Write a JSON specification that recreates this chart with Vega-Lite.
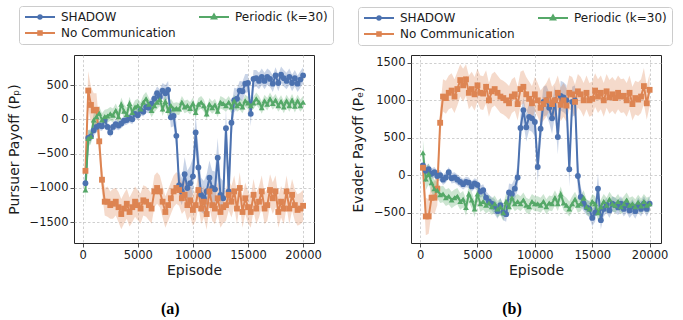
{
"$schema": "https://vega.github.io/schema/vega-lite/v6.json",
"padding": {"left": 6, "top": 5, "right": 5, "bottom": 0},
"spacing": 16,
"config": {
 "view": {"stroke": "#262626", "strokeWidth": 1},
 "font": "DejaVu Sans",
 "axis": {"labelFont": "DejaVu Sans", "labelFontSize": 11.5, "labelColor": "#1a1a1a", "titleFont": "DejaVu Sans", "titleFontSize": 14, "titleFontWeight": "normal", "titleColor": "#1a1a1a", "domain": false, "tickColor": "#262626", "tickSize": 4, "tickWidth": 0.8, "gridColor": "#c4c4c4", "gridDash": [2.5, 2], "gridWidth": 0.8, "labelPadding": 2, "format": "d"},
 "axisX": {"titlePadding": 3},
 "axisY": {"titlePadding": 8},
 "legend": {"title": null, "orient": "none", "columns": 2, "symbolSize": 100, "symbolOpacity": 1, "symbolStrokeWidth": 2, "labelFontSize": 12, "labelFont": "DejaVu Sans", "labelColor": "#1a1a1a", "labelOffset": 25, "strokeColor": "#cccccc", "fillColor": "#ffffff", "cornerRadius": 3, "padding": 5, "rowPadding": 4, "columnPadding": 19}
},
"resolve": {"scale": {"color": "independent", "x": "independent", "y": "independent"}, "legend": {"color": "independent"}},
"datasets": {
"a": [
{"s":"S","x":250,"y":-930,"l":-1050,"h":-800},{"s":"S","x":500,"y":-270,"l":-380,"h":-150},{"s":"S","x":750,"y":-250,"l":-330,"h":-170},{"s":"S","x":1000,"y":-160,"l":-240,"h":-80},{"s":"S","x":1250,"y":-110,"l":-190,"h":-40},{"s":"S","x":1500,"y":-90,"l":-160,"h":-20},{"s":"S","x":1750,"y":-100,"l":-170,"h":-30},{"s":"S","x":2000,"y":-10,"l":-90,"h":60},{"s":"S","x":2250,"y":-110,"l":-180,"h":-40},{"s":"S","x":2500,"y":-190,"l":-260,"h":-110},{"s":"S","x":2750,"y":-110,"l":-180,"h":-40},{"s":"S","x":3000,"y":-70,"l":-140,"h":0},{"s":"S","x":3250,"y":-90,"l":-160,"h":-20},{"s":"S","x":3500,"y":-60,"l":-130,"h":10},{"s":"S","x":3750,"y":-20,"l":-90,"h":50},{"s":"S","x":4000,"y":-10,"l":-80,"h":60},{"s":"S","x":4250,"y":20,"l":-50,"h":90},{"s":"S","x":4500,"y":0,"l":-70,"h":70},{"s":"S","x":4750,"y":80,"l":10,"h":150},{"s":"S","x":5000,"y":60,"l":-10,"h":130},{"s":"S","x":5250,"y":130,"l":60,"h":200},{"s":"S","x":5500,"y":110,"l":40,"h":180},{"s":"S","x":5750,"y":180,"l":100,"h":260},{"s":"S","x":6000,"y":170,"l":90,"h":250},{"s":"S","x":6250,"y":230,"l":140,"h":320},{"s":"S","x":6500,"y":300,"l":200,"h":400},{"s":"S","x":6750,"y":380,"l":270,"h":480},{"s":"S","x":7000,"y":330,"l":220,"h":440},{"s":"S","x":7250,"y":420,"l":300,"h":530},{"s":"S","x":7500,"y":380,"l":260,"h":500},{"s":"S","x":7750,"y":430,"l":300,"h":560},{"s":"S","x":8000,"y":30,"l":-120,"h":180},{"s":"S","x":8250,"y":50,"l":-100,"h":200},{"s":"S","x":8500,"y":-240,"l":-450,"h":-40},{"s":"S","x":8750,"y":-960,"l":-1150,"h":-760},{"s":"S","x":9000,"y":-1050,"l":-1250,"h":-850},{"s":"S","x":9250,"y":-800,"l":-1050,"h":-550},{"s":"S","x":9500,"y":-1000,"l":-1250,"h":-750},{"s":"S","x":9750,"y":-930,"l":-1180,"h":-680},{"s":"S","x":10000,"y":-830,"l":-1100,"h":-560},{"s":"S","x":10250,"y":-190,"l":-450,"h":70},{"s":"S","x":10500,"y":-700,"l":-1000,"h":-400},{"s":"S","x":10750,"y":-1100,"l":-1350,"h":-850},{"s":"S","x":11000,"y":-1150,"l":-1380,"h":-900},{"s":"S","x":11250,"y":-1050,"l":-1300,"h":-800},{"s":"S","x":11500,"y":-850,"l":-1100,"h":-600},{"s":"S","x":11750,"y":-1000,"l":-1250,"h":-750},{"s":"S","x":12000,"y":-1020,"l":-1280,"h":-760},{"s":"S","x":12250,"y":-560,"l":-850,"h":-270},{"s":"S","x":12500,"y":-1100,"l":-1350,"h":-850},{"s":"S","x":12750,"y":-1150,"l":-1380,"h":-900},{"s":"S","x":13000,"y":-130,"l":-400,"h":150},{"s":"S","x":13250,"y":-1050,"l":-1300,"h":-800},{"s":"S","x":13500,"y":-50,"l":-300,"h":200},{"s":"S","x":13750,"y":280,"l":100,"h":460},{"s":"S","x":14000,"y":300,"l":150,"h":450},{"s":"S","x":14250,"y":420,"l":280,"h":560},{"s":"S","x":14500,"y":410,"l":270,"h":550},{"s":"S","x":14750,"y":520,"l":380,"h":660},{"s":"S","x":15000,"y":530,"l":400,"h":660},{"s":"S","x":15250,"y":80,"l":-100,"h":260},{"s":"S","x":15500,"y":590,"l":460,"h":720},{"s":"S","x":15750,"y":600,"l":480,"h":720},{"s":"S","x":16000,"y":560,"l":440,"h":680},{"s":"S","x":16250,"y":620,"l":500,"h":740},{"s":"S","x":16500,"y":560,"l":440,"h":680},{"s":"S","x":16750,"y":620,"l":500,"h":740},{"s":"S","x":17000,"y":590,"l":470,"h":710},{"s":"S","x":17250,"y":520,"l":400,"h":640},{"s":"S","x":17500,"y":640,"l":520,"h":760},{"s":"S","x":17750,"y":530,"l":410,"h":650},{"s":"S","x":18000,"y":650,"l":530,"h":770},{"s":"S","x":18250,"y":600,"l":480,"h":720},{"s":"S","x":18500,"y":560,"l":440,"h":680},{"s":"S","x":18750,"y":620,"l":500,"h":740},{"s":"S","x":19000,"y":530,"l":410,"h":650},{"s":"S","x":19250,"y":600,"l":480,"h":720},{"s":"S","x":19500,"y":520,"l":400,"h":640},{"s":"S","x":19750,"y":580,"l":460,"h":700},{"s":"S","x":20000,"y":640,"l":520,"h":760},
{"s":"N","x":250,"y":-750,"l":-950,"h":-550},{"s":"N","x":500,"y":420,"l":150,"h":700},{"s":"N","x":750,"y":210,"l":-50,"h":470},{"s":"N","x":1000,"y":130,"l":-120,"h":380},{"s":"N","x":1250,"y":140,"l":-100,"h":380},{"s":"N","x":1500,"y":-320,"l":-550,"h":-90},{"s":"N","x":1750,"y":-880,"l":-1080,"h":-680},{"s":"N","x":2000,"y":-1200,"l":-1400,"h":-1000},{"s":"N","x":2250,"y":-1200,"l":-1420,"h":-980},{"s":"N","x":2500,"y":-1250,"l":-1450,"h":-1050},{"s":"N","x":2750,"y":-1230,"l":-1450,"h":-1010},{"s":"N","x":3000,"y":-1200,"l":-1400,"h":-1000},{"s":"N","x":3250,"y":-1280,"l":-1500,"h":-1060},{"s":"N","x":3500,"y":-1380,"l":-1600,"h":-1160},{"s":"N","x":3750,"y":-1300,"l":-1520,"h":-1080},{"s":"N","x":4000,"y":-1230,"l":-1450,"h":-1010},{"s":"N","x":4250,"y":-1350,"l":-1560,"h":-1140},{"s":"N","x":4500,"y":-1280,"l":-1500,"h":-1060},{"s":"N","x":4750,"y":-1200,"l":-1420,"h":-980},{"s":"N","x":5000,"y":-1250,"l":-1470,"h":-1030},{"s":"N","x":5250,"y":-1300,"l":-1520,"h":-1080},{"s":"N","x":5500,"y":-1180,"l":-1400,"h":-960},{"s":"N","x":5750,"y":-1200,"l":-1420,"h":-980},{"s":"N","x":6000,"y":-1250,"l":-1470,"h":-1030},{"s":"N","x":6250,"y":-1300,"l":-1520,"h":-1080},{"s":"N","x":6500,"y":-1050,"l":-1280,"h":-820},{"s":"N","x":6750,"y":-1000,"l":-1230,"h":-770},{"s":"N","x":7000,"y":-1050,"l":-1280,"h":-820},{"s":"N","x":7250,"y":-1200,"l":-1430,"h":-970},{"s":"N","x":7500,"y":-1350,"l":-1580,"h":-1120},{"s":"N","x":7750,"y":-1250,"l":-1480,"h":-1020},{"s":"N","x":8000,"y":-1150,"l":-1380,"h":-920},{"s":"N","x":8250,"y":-1050,"l":-1280,"h":-820},{"s":"N","x":8500,"y":-1000,"l":-1230,"h":-770},{"s":"N","x":8750,"y":-1030,"l":-1260,"h":-800},{"s":"N","x":9000,"y":-1150,"l":-1380,"h":-920},{"s":"N","x":9250,"y":-1100,"l":-1330,"h":-870},{"s":"N","x":9500,"y":-1250,"l":-1480,"h":-1020},{"s":"N","x":9750,"y":-1180,"l":-1410,"h":-950},{"s":"N","x":10000,"y":-1320,"l":-1550,"h":-1090},{"s":"N","x":10250,"y":-1250,"l":-1480,"h":-1020},{"s":"N","x":10500,"y":-1030,"l":-1260,"h":-800},{"s":"N","x":10750,"y":-1300,"l":-1530,"h":-1070},{"s":"N","x":11000,"y":-1200,"l":-1430,"h":-970},{"s":"N","x":11250,"y":-1380,"l":-1610,"h":-1150},{"s":"N","x":11500,"y":-1050,"l":-1280,"h":-820},{"s":"N","x":11750,"y":-1250,"l":-1480,"h":-1020},{"s":"N","x":12000,"y":-1300,"l":-1530,"h":-1070},{"s":"N","x":12250,"y":-1150,"l":-1380,"h":-920},{"s":"N","x":12500,"y":-1350,"l":-1580,"h":-1120},{"s":"N","x":12750,"y":-1280,"l":-1510,"h":-1050},{"s":"N","x":13000,"y":-1250,"l":-1480,"h":-1020},{"s":"N","x":13250,"y":-1100,"l":-1330,"h":-870},{"s":"N","x":13500,"y":-1200,"l":-1430,"h":-970},{"s":"N","x":13750,"y":-1050,"l":-1280,"h":-820},{"s":"N","x":14000,"y":-1300,"l":-1530,"h":-1070},{"s":"N","x":14250,"y":-1000,"l":-1230,"h":-770},{"s":"N","x":14500,"y":-1350,"l":-1580,"h":-1120},{"s":"N","x":14750,"y":-1150,"l":-1380,"h":-920},{"s":"N","x":15000,"y":-1280,"l":-1510,"h":-1050},{"s":"N","x":15250,"y":-1350,"l":-1580,"h":-1120},{"s":"N","x":15500,"y":-1100,"l":-1330,"h":-870},{"s":"N","x":15750,"y":-1300,"l":-1530,"h":-1070},{"s":"N","x":16000,"y":-1200,"l":-1430,"h":-970},{"s":"N","x":16250,"y":-1050,"l":-1280,"h":-820},{"s":"N","x":16500,"y":-1300,"l":-1530,"h":-1070},{"s":"N","x":16750,"y":-1250,"l":-1480,"h":-1020},{"s":"N","x":17000,"y":-1030,"l":-1260,"h":-800},{"s":"N","x":17250,"y":-1150,"l":-1380,"h":-920},{"s":"N","x":17500,"y":-1050,"l":-1280,"h":-820},{"s":"N","x":17750,"y":-1350,"l":-1580,"h":-1120},{"s":"N","x":18000,"y":-1200,"l":-1430,"h":-970},{"s":"N","x":18250,"y":-1300,"l":-1530,"h":-1070},{"s":"N","x":18500,"y":-1050,"l":-1280,"h":-820},{"s":"N","x":18750,"y":-1300,"l":-1530,"h":-1070},{"s":"N","x":19000,"y":-1100,"l":-1330,"h":-870},{"s":"N","x":19250,"y":-1250,"l":-1480,"h":-1020},{"s":"N","x":19500,"y":-1320,"l":-1550,"h":-1090},{"s":"N","x":19750,"y":-1300,"l":-1530,"h":-1070},{"s":"N","x":20000,"y":-1260,"l":-1490,"h":-1030},
{"s":"P","x":250,"y":-1030,"l":-1250,"h":-800},{"s":"P","x":500,"y":-280,"l":-400,"h":-160},{"s":"P","x":750,"y":-250,"l":-360,"h":-140},{"s":"P","x":1000,"y":-10,"l":-110,"h":90},{"s":"P","x":1250,"y":40,"l":-60,"h":140},{"s":"P","x":1500,"y":90,"l":-10,"h":190},{"s":"P","x":1750,"y":-10,"l":-110,"h":90},{"s":"P","x":2000,"y":40,"l":-60,"h":140},{"s":"P","x":2250,"y":50,"l":-50,"h":150},{"s":"P","x":2500,"y":80,"l":-20,"h":180},{"s":"P","x":2750,"y":60,"l":-40,"h":160},{"s":"P","x":3000,"y":130,"l":30,"h":230},{"s":"P","x":3250,"y":40,"l":-60,"h":140},{"s":"P","x":3500,"y":220,"l":120,"h":320},{"s":"P","x":3750,"y":120,"l":20,"h":220},{"s":"P","x":4000,"y":70,"l":-30,"h":170},{"s":"P","x":4250,"y":230,"l":130,"h":330},{"s":"P","x":4500,"y":100,"l":0,"h":200},{"s":"P","x":4750,"y":180,"l":80,"h":280},{"s":"P","x":5000,"y":200,"l":100,"h":300},{"s":"P","x":5250,"y":150,"l":50,"h":250},{"s":"P","x":5500,"y":250,"l":150,"h":350},{"s":"P","x":5750,"y":300,"l":200,"h":400},{"s":"P","x":6000,"y":220,"l":120,"h":320},{"s":"P","x":6250,"y":130,"l":30,"h":230},{"s":"P","x":6500,"y":200,"l":100,"h":300},{"s":"P","x":6750,"y":250,"l":150,"h":350},{"s":"P","x":7000,"y":290,"l":190,"h":390},{"s":"P","x":7250,"y":150,"l":50,"h":250},{"s":"P","x":7500,"y":260,"l":160,"h":360},{"s":"P","x":7750,"y":130,"l":30,"h":230},{"s":"P","x":8000,"y":200,"l":100,"h":300},{"s":"P","x":8250,"y":150,"l":60,"h":240},{"s":"P","x":8500,"y":160,"l":70,"h":250},{"s":"P","x":8750,"y":150,"l":60,"h":240},{"s":"P","x":9000,"y":250,"l":160,"h":340},{"s":"P","x":9250,"y":180,"l":90,"h":270},{"s":"P","x":9500,"y":200,"l":110,"h":290},{"s":"P","x":9750,"y":160,"l":70,"h":250},{"s":"P","x":10000,"y":230,"l":140,"h":320},{"s":"P","x":10250,"y":100,"l":10,"h":190},{"s":"P","x":10500,"y":220,"l":130,"h":310},{"s":"P","x":10750,"y":250,"l":160,"h":340},{"s":"P","x":11000,"y":200,"l":110,"h":290},{"s":"P","x":11250,"y":80,"l":-10,"h":170},{"s":"P","x":11500,"y":220,"l":130,"h":310},{"s":"P","x":11750,"y":170,"l":80,"h":260},{"s":"P","x":12000,"y":210,"l":120,"h":300},{"s":"P","x":12250,"y":120,"l":30,"h":210},{"s":"P","x":12500,"y":250,"l":160,"h":340},{"s":"P","x":12750,"y":230,"l":140,"h":320},{"s":"P","x":13000,"y":200,"l":110,"h":290},{"s":"P","x":13250,"y":250,"l":160,"h":340},{"s":"P","x":13500,"y":180,"l":90,"h":270},{"s":"P","x":13750,"y":270,"l":180,"h":360},{"s":"P","x":14000,"y":200,"l":110,"h":290},{"s":"P","x":14250,"y":230,"l":140,"h":320},{"s":"P","x":14500,"y":180,"l":90,"h":270},{"s":"P","x":14750,"y":270,"l":180,"h":360},{"s":"P","x":15000,"y":240,"l":150,"h":330},{"s":"P","x":15250,"y":200,"l":110,"h":290},{"s":"P","x":15500,"y":240,"l":150,"h":330},{"s":"P","x":15750,"y":300,"l":210,"h":390},{"s":"P","x":16000,"y":250,"l":160,"h":340},{"s":"P","x":16250,"y":170,"l":80,"h":260},{"s":"P","x":16500,"y":270,"l":180,"h":360},{"s":"P","x":16750,"y":220,"l":130,"h":310},{"s":"P","x":17000,"y":300,"l":210,"h":390},{"s":"P","x":17250,"y":230,"l":140,"h":320},{"s":"P","x":17500,"y":280,"l":190,"h":370},{"s":"P","x":17750,"y":200,"l":110,"h":290},{"s":"P","x":18000,"y":260,"l":170,"h":350},{"s":"P","x":18250,"y":180,"l":90,"h":270},{"s":"P","x":18500,"y":270,"l":180,"h":360},{"s":"P","x":18750,"y":200,"l":110,"h":290},{"s":"P","x":19000,"y":280,"l":190,"h":370},{"s":"P","x":19250,"y":190,"l":100,"h":280},{"s":"P","x":19500,"y":270,"l":180,"h":360},{"s":"P","x":19750,"y":200,"l":110,"h":290},{"s":"P","x":20000,"y":250,"l":160,"h":340}
],
"b": [
{"s":"S","x":250,"y":130,"l":60,"h":200},{"s":"S","x":500,"y":60,"l":-10,"h":130},{"s":"S","x":750,"y":80,"l":10,"h":150},{"s":"S","x":1000,"y":20,"l":-50,"h":90},{"s":"S","x":1250,"y":40,"l":-30,"h":110},{"s":"S","x":1500,"y":-10,"l":-80,"h":60},{"s":"S","x":1750,"y":0,"l":-70,"h":70},{"s":"S","x":2000,"y":-60,"l":-130,"h":10},{"s":"S","x":2250,"y":-30,"l":-100,"h":40},{"s":"S","x":2500,"y":40,"l":-30,"h":110},{"s":"S","x":2750,"y":-40,"l":-110,"h":30},{"s":"S","x":3000,"y":-30,"l":-100,"h":40},{"s":"S","x":3250,"y":-60,"l":-130,"h":10},{"s":"S","x":3500,"y":-90,"l":-160,"h":-20},{"s":"S","x":3750,"y":-120,"l":-190,"h":-50},{"s":"S","x":4000,"y":-90,"l":-160,"h":-20},{"s":"S","x":4250,"y":-100,"l":-170,"h":-30},{"s":"S","x":4500,"y":-150,"l":-220,"h":-80},{"s":"S","x":4750,"y":-110,"l":-180,"h":-40},{"s":"S","x":5000,"y":-130,"l":-200,"h":-60},{"s":"S","x":5250,"y":-220,"l":-300,"h":-140},{"s":"S","x":5500,"y":-200,"l":-280,"h":-120},{"s":"S","x":5750,"y":-300,"l":-390,"h":-210},{"s":"S","x":6000,"y":-350,"l":-440,"h":-260},{"s":"S","x":6250,"y":-380,"l":-470,"h":-290},{"s":"S","x":6500,"y":-420,"l":-520,"h":-320},{"s":"S","x":6750,"y":-480,"l":-580,"h":-380},{"s":"S","x":7000,"y":-400,"l":-500,"h":-300},{"s":"S","x":7250,"y":-500,"l":-600,"h":-400},{"s":"S","x":7500,"y":-520,"l":-620,"h":-420},{"s":"S","x":7750,"y":-230,"l":-350,"h":-110},{"s":"S","x":8000,"y":-250,"l":-380,"h":-120},{"s":"S","x":8250,"y":-180,"l":-320,"h":-40},{"s":"S","x":8500,"y":-30,"l":-200,"h":140},{"s":"S","x":8750,"y":630,"l":450,"h":810},{"s":"S","x":9000,"y":870,"l":700,"h":1040},{"s":"S","x":9250,"y":640,"l":450,"h":830},{"s":"S","x":9500,"y":780,"l":600,"h":960},{"s":"S","x":9750,"y":760,"l":580,"h":940},{"s":"S","x":10000,"y":710,"l":520,"h":900},{"s":"S","x":10250,"y":110,"l":-100,"h":320},{"s":"S","x":10500,"y":620,"l":400,"h":840},{"s":"S","x":10750,"y":980,"l":780,"h":1180},{"s":"S","x":11000,"y":1000,"l":800,"h":1200},{"s":"S","x":11250,"y":900,"l":700,"h":1100},{"s":"S","x":11500,"y":760,"l":550,"h":970},{"s":"S","x":11750,"y":1000,"l":800,"h":1200},{"s":"S","x":12000,"y":510,"l":280,"h":740},{"s":"S","x":12250,"y":1060,"l":860,"h":1260},{"s":"S","x":12500,"y":1040,"l":840,"h":1240},{"s":"S","x":12750,"y":1000,"l":800,"h":1200},{"s":"S","x":13000,"y":80,"l":-150,"h":310},{"s":"S","x":13250,"y":980,"l":780,"h":1180},{"s":"S","x":13500,"y":1000,"l":800,"h":1200},{"s":"S","x":13750,"y":-10,"l":-230,"h":210},{"s":"S","x":14000,"y":-290,"l":-420,"h":-160},{"s":"S","x":14250,"y":-380,"l":-480,"h":-280},{"s":"S","x":14500,"y":-430,"l":-530,"h":-330},{"s":"S","x":14750,"y":-450,"l":-560,"h":-340},{"s":"S","x":15000,"y":-570,"l":-680,"h":-460},{"s":"S","x":15250,"y":-500,"l":-620,"h":-380},{"s":"S","x":15500,"y":-180,"l":-380,"h":20},{"s":"S","x":15750,"y":-600,"l":-720,"h":-480},{"s":"S","x":16000,"y":-450,"l":-550,"h":-350},{"s":"S","x":16250,"y":-400,"l":-500,"h":-300},{"s":"S","x":16500,"y":-470,"l":-570,"h":-370},{"s":"S","x":16750,"y":-380,"l":-480,"h":-280},{"s":"S","x":17000,"y":-400,"l":-500,"h":-300},{"s":"S","x":17250,"y":-430,"l":-530,"h":-330},{"s":"S","x":17500,"y":-380,"l":-480,"h":-280},{"s":"S","x":17750,"y":-450,"l":-550,"h":-350},{"s":"S","x":18000,"y":-400,"l":-500,"h":-300},{"s":"S","x":18250,"y":-470,"l":-570,"h":-370},{"s":"S","x":18500,"y":-420,"l":-520,"h":-320},{"s":"S","x":18750,"y":-480,"l":-580,"h":-380},{"s":"S","x":19000,"y":-400,"l":-500,"h":-300},{"s":"S","x":19250,"y":-450,"l":-550,"h":-350},{"s":"S","x":19500,"y":-380,"l":-480,"h":-280},{"s":"S","x":19750,"y":-450,"l":-550,"h":-350},{"s":"S","x":20000,"y":-380,"l":-480,"h":-280},
{"s":"N","x":250,"y":100,"l":0,"h":200},{"s":"N","x":500,"y":-550,"l":-800,"h":-300},{"s":"N","x":750,"y":-550,"l":-780,"h":-320},{"s":"N","x":1000,"y":-300,"l":-500,"h":-100},{"s":"N","x":1250,"y":-300,"l":-520,"h":-80},{"s":"N","x":1500,"y":-180,"l":-400,"h":40},{"s":"N","x":1750,"y":700,"l":500,"h":900},{"s":"N","x":2000,"y":1050,"l":850,"h":1280},{"s":"N","x":2250,"y":1030,"l":820,"h":1260},{"s":"N","x":2500,"y":1100,"l":880,"h":1330},{"s":"N","x":2750,"y":1130,"l":900,"h":1360},{"s":"N","x":3000,"y":1050,"l":830,"h":1280},{"s":"N","x":3250,"y":1150,"l":930,"h":1380},{"s":"N","x":3500,"y":1270,"l":1050,"h":1480},{"s":"N","x":3750,"y":1200,"l":980,"h":1420},{"s":"N","x":4000,"y":1280,"l":1060,"h":1480},{"s":"N","x":4250,"y":1100,"l":880,"h":1330},{"s":"N","x":4500,"y":1150,"l":930,"h":1380},{"s":"N","x":4750,"y":1080,"l":860,"h":1310},{"s":"N","x":5000,"y":1200,"l":980,"h":1420},{"s":"N","x":5250,"y":1100,"l":880,"h":1330},{"s":"N","x":5500,"y":1090,"l":870,"h":1320},{"s":"N","x":5750,"y":1180,"l":960,"h":1400},{"s":"N","x":6000,"y":1000,"l":780,"h":1230},{"s":"N","x":6250,"y":1120,"l":900,"h":1350},{"s":"N","x":6500,"y":1150,"l":930,"h":1380},{"s":"N","x":6750,"y":1100,"l":880,"h":1330},{"s":"N","x":7000,"y":1050,"l":830,"h":1280},{"s":"N","x":7250,"y":1030,"l":810,"h":1260},{"s":"N","x":7500,"y":1000,"l":780,"h":1230},{"s":"N","x":7750,"y":960,"l":740,"h":1190},{"s":"N","x":8000,"y":1050,"l":830,"h":1280},{"s":"N","x":8250,"y":1080,"l":860,"h":1310},{"s":"N","x":8500,"y":950,"l":730,"h":1180},{"s":"N","x":8750,"y":1150,"l":930,"h":1380},{"s":"N","x":9000,"y":1180,"l":960,"h":1400},{"s":"N","x":9250,"y":1080,"l":860,"h":1310},{"s":"N","x":9500,"y":1020,"l":800,"h":1250},{"s":"N","x":9750,"y":960,"l":740,"h":1190},{"s":"N","x":10000,"y":1080,"l":860,"h":1310},{"s":"N","x":10250,"y":1000,"l":780,"h":1230},{"s":"N","x":10500,"y":900,"l":680,"h":1130},{"s":"N","x":10750,"y":950,"l":730,"h":1180},{"s":"N","x":11000,"y":1000,"l":780,"h":1230},{"s":"N","x":11250,"y":1080,"l":860,"h":1310},{"s":"N","x":11500,"y":950,"l":730,"h":1180},{"s":"N","x":11750,"y":1000,"l":780,"h":1230},{"s":"N","x":12000,"y":1100,"l":880,"h":1330},{"s":"N","x":12250,"y":940,"l":720,"h":1170},{"s":"N","x":12500,"y":1000,"l":780,"h":1230},{"s":"N","x":12750,"y":930,"l":710,"h":1160},{"s":"N","x":13000,"y":1100,"l":880,"h":1330},{"s":"N","x":13250,"y":1080,"l":860,"h":1310},{"s":"N","x":13500,"y":980,"l":760,"h":1210},{"s":"N","x":13750,"y":1120,"l":900,"h":1350},{"s":"N","x":14000,"y":1080,"l":860,"h":1310},{"s":"N","x":14250,"y":1000,"l":780,"h":1230},{"s":"N","x":14500,"y":1100,"l":880,"h":1330},{"s":"N","x":14750,"y":1000,"l":780,"h":1230},{"s":"N","x":15000,"y":1020,"l":800,"h":1250},{"s":"N","x":15250,"y":1130,"l":910,"h":1360},{"s":"N","x":15500,"y":1050,"l":830,"h":1280},{"s":"N","x":15750,"y":1100,"l":880,"h":1330},{"s":"N","x":16000,"y":1000,"l":780,"h":1230},{"s":"N","x":16250,"y":1120,"l":900,"h":1350},{"s":"N","x":16500,"y":1040,"l":820,"h":1270},{"s":"N","x":16750,"y":1080,"l":860,"h":1310},{"s":"N","x":17000,"y":1030,"l":810,"h":1260},{"s":"N","x":17250,"y":1100,"l":880,"h":1330},{"s":"N","x":17500,"y":1050,"l":830,"h":1280},{"s":"N","x":17750,"y":1060,"l":840,"h":1290},{"s":"N","x":18000,"y":1000,"l":780,"h":1230},{"s":"N","x":18250,"y":1100,"l":880,"h":1330},{"s":"N","x":18500,"y":950,"l":730,"h":1180},{"s":"N","x":18750,"y":1030,"l":810,"h":1260},{"s":"N","x":19000,"y":1010,"l":790,"h":1240},{"s":"N","x":19250,"y":1050,"l":830,"h":1280},{"s":"N","x":19500,"y":1190,"l":950,"h":1430},{"s":"N","x":19750,"y":960,"l":740,"h":1190},{"s":"N","x":20000,"y":1140,"l":920,"h":1360},
{"s":"P","x":250,"y":300,"l":140,"h":470},{"s":"P","x":500,"y":-50,"l":-200,"h":100},{"s":"P","x":750,"y":20,"l":-120,"h":160},{"s":"P","x":1000,"y":-100,"l":-230,"h":30},{"s":"P","x":1250,"y":-180,"l":-300,"h":-60},{"s":"P","x":1500,"y":-200,"l":-310,"h":-90},{"s":"P","x":1750,"y":-260,"l":-370,"h":-150},{"s":"P","x":2000,"y":-250,"l":-360,"h":-140},{"s":"P","x":2250,"y":-300,"l":-410,"h":-190},{"s":"P","x":2500,"y":-280,"l":-390,"h":-170},{"s":"P","x":2750,"y":-330,"l":-440,"h":-220},{"s":"P","x":3000,"y":-300,"l":-410,"h":-190},{"s":"P","x":3250,"y":-280,"l":-390,"h":-170},{"s":"P","x":3500,"y":-350,"l":-460,"h":-240},{"s":"P","x":3750,"y":-320,"l":-430,"h":-210},{"s":"P","x":4000,"y":-430,"l":-540,"h":-320},{"s":"P","x":4250,"y":-250,"l":-360,"h":-140},{"s":"P","x":4500,"y":-330,"l":-440,"h":-220},{"s":"P","x":4750,"y":-450,"l":-560,"h":-340},{"s":"P","x":5000,"y":-250,"l":-360,"h":-140},{"s":"P","x":5250,"y":-380,"l":-490,"h":-270},{"s":"P","x":5500,"y":-350,"l":-460,"h":-240},{"s":"P","x":5750,"y":-400,"l":-510,"h":-290},{"s":"P","x":6000,"y":-370,"l":-480,"h":-260},{"s":"P","x":6250,"y":-420,"l":-530,"h":-310},{"s":"P","x":6500,"y":-380,"l":-490,"h":-270},{"s":"P","x":6750,"y":-450,"l":-560,"h":-340},{"s":"P","x":7000,"y":-420,"l":-530,"h":-310},{"s":"P","x":7250,"y":-500,"l":-610,"h":-390},{"s":"P","x":7500,"y":-350,"l":-460,"h":-240},{"s":"P","x":7750,"y":-420,"l":-530,"h":-310},{"s":"P","x":8000,"y":-300,"l":-410,"h":-190},{"s":"P","x":8250,"y":-380,"l":-480,"h":-280},{"s":"P","x":8500,"y":-350,"l":-450,"h":-250},{"s":"P","x":8750,"y":-380,"l":-480,"h":-280},{"s":"P","x":9000,"y":-330,"l":-430,"h":-230},{"s":"P","x":9250,"y":-400,"l":-500,"h":-300},{"s":"P","x":9500,"y":-420,"l":-520,"h":-320},{"s":"P","x":9750,"y":-350,"l":-450,"h":-250},{"s":"P","x":10000,"y":-380,"l":-480,"h":-280},{"s":"P","x":10250,"y":-380,"l":-480,"h":-280},{"s":"P","x":10500,"y":-400,"l":-500,"h":-300},{"s":"P","x":10750,"y":-350,"l":-450,"h":-250},{"s":"P","x":11000,"y":-420,"l":-520,"h":-320},{"s":"P","x":11250,"y":-370,"l":-470,"h":-270},{"s":"P","x":11500,"y":-380,"l":-480,"h":-280},{"s":"P","x":11750,"y":-300,"l":-400,"h":-200},{"s":"P","x":12000,"y":-380,"l":-480,"h":-280},{"s":"P","x":12250,"y":-250,"l":-350,"h":-150},{"s":"P","x":12500,"y":-370,"l":-470,"h":-270},{"s":"P","x":12750,"y":-400,"l":-500,"h":-300},{"s":"P","x":13000,"y":-450,"l":-550,"h":-350},{"s":"P","x":13250,"y":-380,"l":-480,"h":-280},{"s":"P","x":13500,"y":-320,"l":-420,"h":-220},{"s":"P","x":13750,"y":-400,"l":-500,"h":-300},{"s":"P","x":14000,"y":-380,"l":-480,"h":-280},{"s":"P","x":14250,"y":-300,"l":-400,"h":-200},{"s":"P","x":14500,"y":-420,"l":-520,"h":-320},{"s":"P","x":14750,"y":-450,"l":-550,"h":-350},{"s":"P","x":15000,"y":-350,"l":-450,"h":-250},{"s":"P","x":15250,"y":-380,"l":-480,"h":-280},{"s":"P","x":15500,"y":-500,"l":-600,"h":-400},{"s":"P","x":15750,"y":-420,"l":-520,"h":-320},{"s":"P","x":16000,"y":-350,"l":-450,"h":-250},{"s":"P","x":16250,"y":-400,"l":-500,"h":-300},{"s":"P","x":16500,"y":-320,"l":-420,"h":-220},{"s":"P","x":16750,"y":-380,"l":-480,"h":-280},{"s":"P","x":17000,"y":-400,"l":-500,"h":-300},{"s":"P","x":17250,"y":-350,"l":-450,"h":-250},{"s":"P","x":17500,"y":-420,"l":-520,"h":-320},{"s":"P","x":17750,"y":-380,"l":-480,"h":-280},{"s":"P","x":18000,"y":-330,"l":-430,"h":-230},{"s":"P","x":18250,"y":-400,"l":-500,"h":-300},{"s":"P","x":18500,"y":-380,"l":-480,"h":-280},{"s":"P","x":18750,"y":-420,"l":-520,"h":-320},{"s":"P","x":19000,"y":-360,"l":-460,"h":-260},{"s":"P","x":19250,"y":-410,"l":-510,"h":-310},{"s":"P","x":19500,"y":-350,"l":-450,"h":-250},{"s":"P","x":19750,"y":-400,"l":-500,"h":-300},{"s":"P","x":20000,"y":-380,"l":-480,"h":-280}
]
},
"hconcat": [
{
 "width": 240, "height": 188,
 "data": {"name": "a"},
 "title": {"text": "(a)", "orient": "bottom", "anchor": "middle", "frame": "bounds", "font": "Liberation Serif", "fontSize": 16, "fontWeight": "bold", "color": "black", "offset": 23},
 "encoding": {
  "x": {"field": "x", "type": "quantitative", "scale": {"domain": [-790, 20990], "nice": false, "zero": false}, "axis": {"values": [0, 5000, 10000, 15000, 20000], "title": "Episode"}},
  "color": {"field": "s", "type": "nominal", "scale": {"domain": ["S", "N", "P"], "range": ["#4C72B0", "#DD8452", "#55A868"]},
   "legend": {"legendX": -55, "legendY": -49,
    "labelExpr": "datum.value==='S'?'SHADOW':datum.value==='N'?'No Communication':'Periodic (k=30)'",
    "encode": {"symbols": {"update": {
      "shape": {"signal": "datum.value==='S'?'M-1,0H5M2.35,0A0.35,0.35 0 1 1 1.65,0A0.35,0.35 0 1 1 2.35,0Z':datum.value==='N'?'M-1,0H5M1.65,-0.35H2.35V0.35H1.65Z':'M-1,0H5M2,-0.5L2.45,0.3L1.55,0.3Z'"},
      "fill": {"signal": "datum.value==='S'?'#4C72B0':datum.value==='N'?'#DD8452':'#55A868'"},
      "stroke": {"signal": "datum.value==='S'?'#4C72B0':datum.value==='N'?'#DD8452':'#55A868'"},
      "strokeWidth": {"value": 2}, "opacity": {"value": 1}, "fillOpacity": {"value": 1}, "strokeOpacity": {"value": 1}}}}}}
 },
 "layer": [
  {"mark": {"type": "area", "opacity": 0.3},
   "encoding": {
    "y": {"field": "l", "type": "quantitative", "scale": {"domain": [-1802, 938], "nice": false, "zero": false}, "axis": {"values": [-1500, -1000, -500, 0, 500], "title": "Pursuer Payoff (Pₚ)"}},
    "y2": {"field": "h"}}},
  {"mark": {"type": "line", "strokeWidth": 2},
   "encoding": {"y": {"field": "y", "type": "quantitative", "axis": {"values": [-1500, -1000, -500, 0, 500], "title": "Pursuer Payoff (Pₚ)"}}}},
  {"transform": [{"filter": "datum.s==='S'"}], "mark": {"type": "point", "shape": "circle", "filled": true, "opacity": 1, "size": 34},
   "encoding": {"y": {"field": "y", "type": "quantitative", "axis": {"values": [-1500, -1000, -500, 0, 500], "title": "Pursuer Payoff (Pₚ)"}}}},
  {"transform": [{"filter": "datum.s==='N'"}], "mark": {"type": "point", "shape": "square", "filled": true, "opacity": 1, "size": 34},
   "encoding": {"y": {"field": "y", "type": "quantitative", "axis": {"values": [-1500, -1000, -500, 0, 500], "title": "Pursuer Payoff (Pₚ)"}}}},
  {"transform": [{"filter": "datum.s==='P'"}], "mark": {"type": "point", "shape": "triangle-up", "filled": true, "opacity": 1, "size": 34},
   "encoding": {"y": {"field": "y", "type": "quantitative", "axis": {"values": [-1500, -1000, -500, 0, 500], "title": "Pursuer Payoff (Pₚ)"}}}}
 ]
},
{
 "width": 250, "height": 188,
 "data": {"name": "b"},
 "title": {"text": "(b)", "orient": "bottom", "anchor": "middle", "frame": "bounds", "font": "Liberation Serif", "fontSize": 16, "fontWeight": "bold", "color": "black", "offset": 23},
 "encoding": {
  "x": {"field": "x", "type": "quantitative", "scale": {"domain": [-790, 20990], "nice": false, "zero": false}, "axis": {"values": [0, 5000, 10000, 15000, 20000], "title": "Episode"}},
  "color": {"field": "s", "type": "nominal", "scale": {"domain": ["S", "N", "P"], "range": ["#4C72B0", "#DD8452", "#55A868"]},
   "legend": {"legendX": -53, "legendY": -48,
    "labelExpr": "datum.value==='S'?'SHADOW':datum.value==='N'?'No Communication':'Periodic (k=30)'",
    "encode": {"symbols": {"update": {
      "shape": {"signal": "datum.value==='S'?'M-1,0H5M2.35,0A0.35,0.35 0 1 1 1.65,0A0.35,0.35 0 1 1 2.35,0Z':datum.value==='N'?'M-1,0H5M1.65,-0.35H2.35V0.35H1.65Z':'M-1,0H5M2,-0.5L2.45,0.3L1.55,0.3Z'"},
      "fill": {"signal": "datum.value==='S'?'#4C72B0':datum.value==='N'?'#DD8452':'#55A868'"},
      "stroke": {"signal": "datum.value==='S'?'#4C72B0':datum.value==='N'?'#DD8452':'#55A868'"},
      "strokeWidth": {"value": 2}, "opacity": {"value": 1}, "fillOpacity": {"value": 1}, "strokeOpacity": {"value": 1}}}}}}
 },
 "layer": [
  {"mark": {"type": "area", "opacity": 0.3},
   "encoding": {
    "y": {"field": "l", "type": "quantitative", "scale": {"domain": [-905, 1605], "nice": false, "zero": false}, "axis": {"values": [-500, 0, 500, 1000, 1500], "title": "Evader Payoff (Pₑ)"}},
    "y2": {"field": "h"}}},
  {"mark": {"type": "line", "strokeWidth": 2},
   "encoding": {"y": {"field": "y", "type": "quantitative", "axis": {"values": [-500, 0, 500, 1000, 1500], "title": "Evader Payoff (Pₑ)"}}}},
  {"transform": [{"filter": "datum.s==='S'"}], "mark": {"type": "point", "shape": "circle", "filled": true, "opacity": 1, "size": 34},
   "encoding": {"y": {"field": "y", "type": "quantitative", "axis": {"values": [-500, 0, 500, 1000, 1500], "title": "Evader Payoff (Pₑ)"}}}},
  {"transform": [{"filter": "datum.s==='N'"}], "mark": {"type": "point", "shape": "square", "filled": true, "opacity": 1, "size": 34},
   "encoding": {"y": {"field": "y", "type": "quantitative", "axis": {"values": [-500, 0, 500, 1000, 1500], "title": "Evader Payoff (Pₑ)"}}}},
  {"transform": [{"filter": "datum.s==='P'"}], "mark": {"type": "point", "shape": "triangle-up", "filled": true, "opacity": 1, "size": 34},
   "encoding": {"y": {"field": "y", "type": "quantitative", "axis": {"values": [-500, 0, 500, 1000, 1500], "title": "Evader Payoff (Pₑ)"}}}}
 ]
}
]
}
